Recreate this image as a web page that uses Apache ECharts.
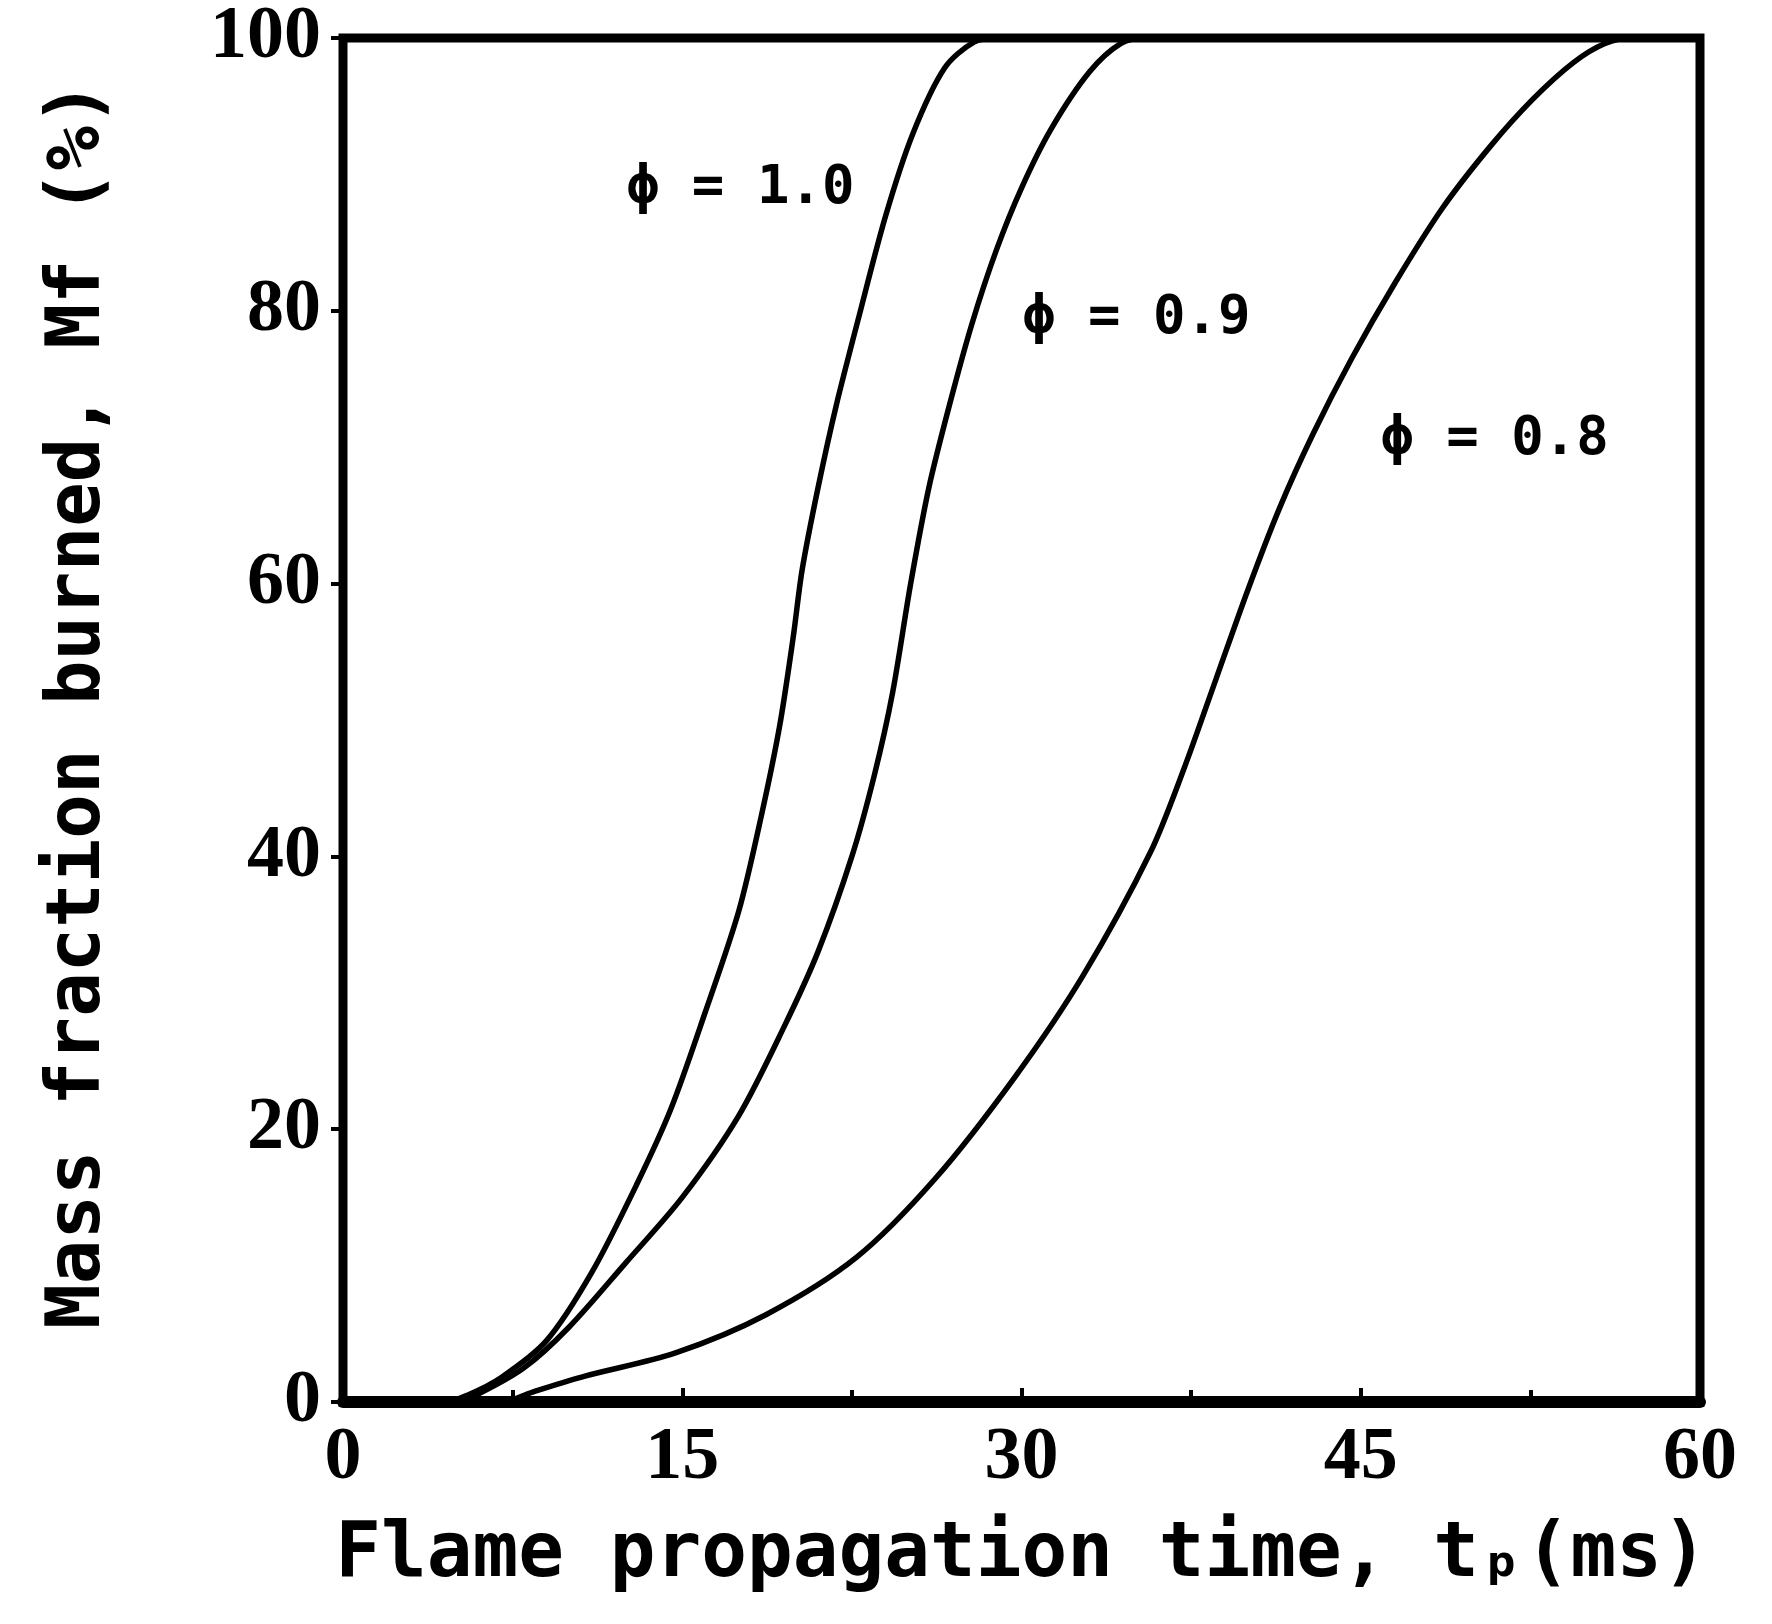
<!DOCTYPE html>
<html>
<head>
<meta charset="utf-8">
<script src="https://cdn.jsdelivr.net/npm/echarts@6/dist/echarts.min.js"></script>
<style>html,body{margin:0;padding:0;background:#fff;}#c{width:1772px;height:1624px;}</style>
</head>
<body>
<div id="c"></div>
<script>
// Data (time in ms, mass fraction in %)
const phi10 = [[0,0],[4.5,0],[5.5,0.5],[7,1.8],[9,4.5],[11,9.5],[13,16],[14.5,21.5],[16,28.5],[17.5,36],[18.5,43],[19.3,49.5],[19.9,56],[20.3,61],[21.0,67],[21.8,73],[22.8,79.5],[24.0,87],[25.2,93],[26.6,97.8],[27.9,99.7],[29,100],[60,100]];
const phi09 = [[0,0],[5,0],[6,0.6],[8,2.5],[10,5.5],[12.5,10.2],[15,15],[17.5,21],[19.5,27.5],[21,33],[22.5,40],[23.5,46],[24.3,52],[25.1,60],[25.9,67],[26.8,73],[27.8,79],[28.9,84.5],[30.0,89],[31.3,93.3],[33.0,97.5],[34.4,99.6],[35.5,100],[60,100]];
const phi08 = [[0,0],[7,0],[8.5,0.8],[10.7,1.9],[14.7,3.6],[18.7,6.4],[22.7,10.6],[26.2,16.4],[29.7,23.8],[32.7,31.2],[35.7,40.3],[37.2,46.5],[38.6,53],[40.0,59.5],[41.4,65.5],[42.9,71],[44.6,76.5],[46.5,82],[48.6,87.5],[50.7,92],[52.6,95.5],[54.4,98.2],[55.8,99.6],[57,100],[60,100]];
const annotations = [["ϕ = 1.0",12.55,88.9],["ϕ = 0.9",30.06,79.4],["ϕ = 0.8",45.9,70.5]];
const xTicks = [0,15,30,45,60];
const yTicks = [0,20,40,60,80,100];
const xName = "Flame propagation time, tₚ(ms)";
const yName = "Mass fraction burned, Mf (%)";

const chart = echarts.init(document.getElementById('c'));
const lineSeries = (d) => ({
  type:'line', data:d, showSymbol:false, smooth:0.3,
  lineStyle:{color:'#000', width:5.5}, animation:false, z:3
});
chart.setOption({
  animation:false,
  backgroundColor:'#fff',
  grid:{left:343, right:72, top:38, bottom:222, show:true, borderColor:'#000', borderWidth:9, backgroundColor:'transparent'},
  xAxis:{
    type:'value', min:xTicks[0], max:xTicks[xTicks.length-1], interval:15,
    name:xName, nameLocation:'middle', nameGap:116,
    nameTextStyle:{fontFamily:'DejaVu Sans Mono', fontWeight:'bold', fontSize:76, color:'#000'},
    axisLine:{show:true, onZero:false, lineStyle:{color:'#000', width:12}},
    axisTick:{show:true, inside:true, length:14, lineStyle:{color:'#000', width:4}},
    minorTick:{show:true, splitNumber:2, length:12, lineStyle:{color:'#000', width:4}},
    splitLine:{show:false},
    axisLabel:{fontFamily:'Liberation Serif', fontWeight:'bold', fontSize:74, color:'#000', margin:20}
  },
  yAxis:{
    type:'value', min:yTicks[0], max:yTicks[yTicks.length-1], interval:20,
    name:yName, nameLocation:'middle', nameGap:226,
    nameTextStyle:{fontFamily:'DejaVu Sans Mono', fontWeight:'bold', fontSize:74, color:'#000', padding:[0,0,0,30]},
    axisLine:{show:true, lineStyle:{color:'#000', width:8}},
    axisTick:{show:true, inside:false, length:12, lineStyle:{color:'#000', width:4}},
    splitLine:{show:false},
    axisLabel:{fontFamily:'Liberation Serif', fontWeight:'bold', fontSize:74, color:'#000', margin:22}
  },
  series:[
    lineSeries(phi10), lineSeries(phi09), lineSeries(phi08),
    {
      type:'scatter', symbolSize:0, animation:false, silent:true,
      itemStyle:{opacity:1, color:'#000'},
      data:annotations.map(a=>({value:[a[1],a[2]], name:a[0]})),
      label:{show:true, position:'right', distance:0, formatter:p=>p.name, opacity:1,
        fontFamily:'DejaVu Sans Mono', fontWeight:'bold', fontSize:54, color:'#000'}
    }
  ]
});
</script>
</body>
</html>
